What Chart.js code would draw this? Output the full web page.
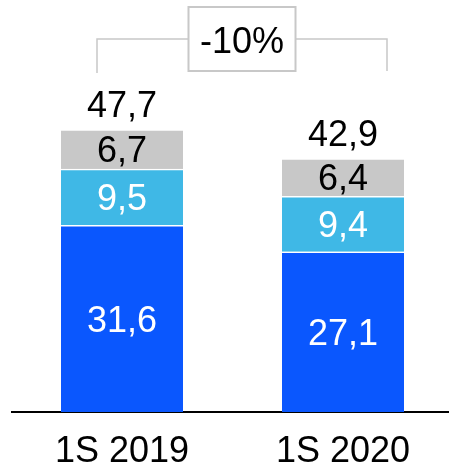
<!DOCTYPE html>
<html>
<head>
<meta charset="utf-8">
<script src="https://cdn.jsdelivr.net/npm/chart.js@4/dist/chart.umd.min.js"></script>
<style>
  html, body { margin: 0; padding: 0; background: #fff; overflow: hidden; }
  #wrap { width: 455px; height: 469px; }
</style>
</head>
<body>
<div id="wrap"><canvas id="chart"></canvas></div>
<script>
// data
const categories = ['1S 2019', '1S 2020'];
const baseValues = [31.6, 27.1];
const midValues = [9.5, 9.4];
const topValues = [6.7, 6.4];
const totals = [47.7, 42.9];
const changeLabel = '-10%';

const FONT = '"Liberation Sans", Arial, sans-serif';

function fmt(v) {
    return v.toFixed(1).replace('.', ',');
}

// labels inside segments, totals above, and the -10% bracket
const labelsPlugin = {
    id: 'labels',
    afterDatasetsDraw(chart) {
        const ctx = chart.ctx;
        ctx.save();
        ctx.font = '36px ' + FONT;
        ctx.textAlign = 'center';
        ctx.textBaseline = 'alphabetic';

        const textColors = ['#ffffff', '#ffffff', '#000000'];
        chart.data.datasets.forEach((ds, di) => {
            const meta = chart.getDatasetMeta(di);
            meta.data.forEach((bar, i) => {
                const mid = (bar.y + bar.base) / 2;
                ctx.fillStyle = textColors[di];
                ctx.fillText(fmt(ds.data[i]), bar.x, mid + 13);
            });
        });

        // totals above the stacks
        const topMeta = chart.getDatasetMeta(2);
        topMeta.data.forEach((bar, i) => {
            ctx.fillStyle = '#000';
            ctx.fillText(fmt(totals[i]), bar.x, bar.y - 13);
        });

        // bracket with the change box
        const b1 = topMeta.data[0], b2 = topMeta.data[1];
        const leftX = b1.x - 25, rightX = b2.x + 44;
        const midX = (leftX + rightX) / 2;
        const lineY = 39;
        const boxW = 107, boxH = 64, boxTop = 7;
        ctx.strokeStyle = '#c8c8c8';
        ctx.lineWidth = 1.5;
        ctx.beginPath();
        ctx.moveTo(leftX, 73);
        ctx.lineTo(leftX, lineY);
        ctx.lineTo(midX - boxW / 2, lineY);
        ctx.moveTo(midX + boxW / 2, lineY);
        ctx.lineTo(rightX, lineY);
        ctx.lineTo(rightX, 71);
        ctx.stroke();

        ctx.fillStyle = '#fff';
        ctx.fillRect(midX - boxW / 2, boxTop, boxW, boxH);
        ctx.lineWidth = 2;
        ctx.strokeRect(midX - boxW / 2, boxTop, boxW, boxH);
        ctx.fillStyle = '#000';
        ctx.fillText(changeLabel, midX, 53);
        ctx.restore();
    }
};

new Chart(document.getElementById('chart'), {
    type: 'bar',
    data: {
        labels: categories,
        datasets: [
            { data: baseValues, backgroundColor: '#0a57fe' },
            { data: midValues, backgroundColor: '#3fb8e6' },
            { data: topValues, backgroundColor: '#c8c8c8' }
        ].map(ds => Object.assign(ds, {
            borderColor: '#ffffff',
            borderWidth: { top: 1.5, left: 0, right: 0, bottom: 0 },
            borderSkipped: 'bottom',
            barThickness: 122
        }))
    },
    options: {
        responsive: true,
        maintainAspectRatio: false,
        animation: false,
        layout: { padding: { top: 87, left: 11.5, right: 1.5, bottom: 0 } },
        plugins: {
            legend: { display: false },
            tooltip: { enabled: false }
        },
        scales: {
            x: {
                stacked: true,
                grid: { display: false, drawTicks: false },
                border: { display: true, color: '#000', width: 2 },
                ticks: {
                    color: '#000',
                    font: { family: FONT, size: 36, lineHeight: 1 },
                    padding: 22
                },
                afterFit(scale) { scale.height = 57; }
            },
            y: {
                stacked: true,
                display: false,
                min: 0,
                max: 55
            }
        }
    },
    plugins: [labelsPlugin]
});
</script>
</body>
</html>
